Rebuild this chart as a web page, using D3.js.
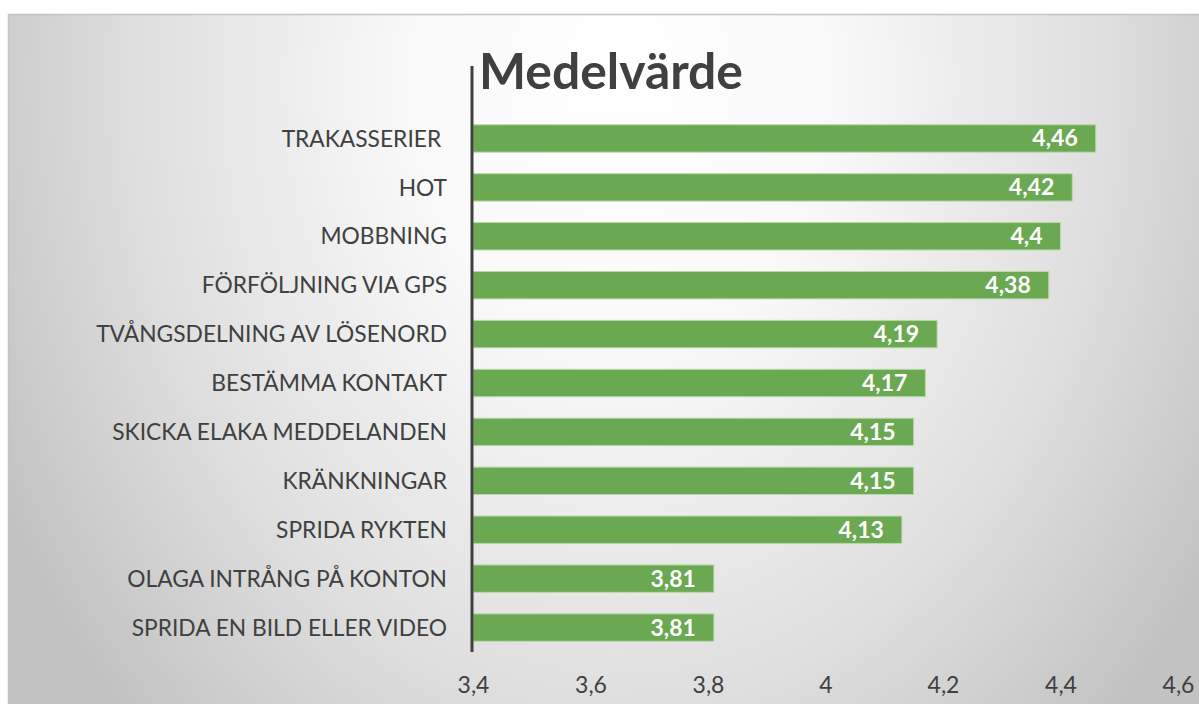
<!DOCTYPE html>
<html>
<head>
<meta charset="utf-8">
<script src="https://cdn.jsdelivr.net/npm/d3@7"></script>
<style>
  body { margin: 0; background: #fff; }
  svg { display: block; }
  text { font-family: Lato, "Open Sans", sans-serif; fill: #404040; }
</style>
</head>
<body>
<div id="chart"></div>
<script>
var barData = [
  { name: 'TRAKASSERIER ', value: 4.46 },
  { name: 'HOT', value: 4.42 },
  { name: 'MOBBNING', value: 4.4 },
  { name: 'FÖRFÖLJNING VIA GPS', value: 4.38 },
  { name: 'TVÅNGSDELNING AV LÖSENORD', value: 4.19 },
  { name: 'BESTÄMMA KONTAKT', value: 4.17 },
  { name: 'SKICKA ELAKA MEDDELANDEN', value: 4.15 },
  { name: 'KRÄNKNINGAR', value: 4.15 },
  { name: 'SPRIDA RYKTEN', value: 4.13 },
  { name: 'OLAGA INTRÅNG PÅ KONTON', value: 3.81 },
  { name: 'SPRIDA EN BILD ELLER VIDEO', value: 3.81 }
]

var W = 1199, H = 704
var fmt = v => String(v).replace('.', ',')

function draw() {
  var svg = d3.select('#chart').append('svg').attr('width', W).attr('height', H)

  // bakgrund med radiell gradient
  var defs = svg.append('defs')
  var grad = defs.append('radialGradient').attr('id', 'bg')
    .attr('gradientUnits', 'userSpaceOnUse')
    .attr('cx', 0).attr('cy', 0).attr('r', 1)
    .attr('gradientTransform', 'translate(620,80) scale(700,900)')
  grad.append('stop').attr('offset', 0).attr('stop-color', '#ffffff')
  grad.append('stop').attr('offset', 0.3).attr('stop-color', '#f9f9f9')
  grad.append('stop').attr('offset', 0.7).attr('stop-color', '#dedede')
  grad.append('stop').attr('offset', 1).attr('stop-color', '#c2c2c2')

  svg.append('rect').attr('x', 8).attr('y', 14).attr('width', W - 8).attr('height', H - 14)
    .style('fill', 'url(#bg)')
  svg.append('path').attr('d', 'M8.5,' + H + 'V14.5H' + W)
    .style('fill', 'none').style('stroke', '#c4c4c4').style('stroke-width', 1.5)

  var xScale = d3.scaleLinear().domain([3.4, 4.6]).range([473, 1178])
  var yScale = d3.scaleBand().domain(barData.map(d => d.name))
    .range([114, 652]).paddingInner(0.44).paddingOuter(0.22)

  svg.selectAll('rect.bar')
    .data(barData).enter().append('rect').attr('class', 'bar')
    .attr('x', xScale(3.4))
    .attr('y', d => yScale(d.name))
    .attr('width', d => xScale(d.value) - xScale(3.4))
    .attr('height', yScale.bandwidth())
    .style('fill', '#6aa952').style('stroke', '#b9d8aa').style('stroke-width', 1)

  svg.selectAll('text.val')
    .data(barData).enter().append('text').attr('class', 'val')
    .attr('x', d => xScale(d.value) - 18)
    .attr('y', d => yScale(d.name) + yScale.bandwidth() / 2 + 8)
    .attr('text-anchor', 'end')
    .style('font-size', '23px').style('font-weight', 'bold').style('fill', '#ffffff')
    .text(d => fmt(d.value))

  // kategoriaxel
  var yAxis = d3.axisLeft(yScale).tickSize(0).tickPadding(26)
  var yG = svg.append('g').attr('id', 'yAxisG').attr('transform', 'translate(473,0)').call(yAxis)
  yG.select('path.domain').remove()
  yG.selectAll('text').style('font-size', '22px').style('fill', '#404040')
    .style('white-space', 'pre').attr('dy', '0.36em')

  svg.append('line').attr('x1', 472).attr('x2', 472).attr('y1', 66).attr('y2', 652)
    .style('stroke', '#404040').style('stroke-width', 3)

  // värdeaxel
  var xAxis = d3.axisBottom(xScale).tickValues([3.4, 3.6, 3.8, 4, 4.2, 4.4, 4.6])
    .tickFormat(d => fmt(d3.format('.1~f')(d))).tickSize(0).tickPadding(0)
  var xG = svg.append('g').attr('id', 'xAxisG').attr('transform', 'translate(0,693)').call(xAxis)
  xG.select('path.domain').remove()
  xG.selectAll('text').attr('dy', 0).style('font-size', '23px').style('fill', '#404040')

  var title = svg.append('text').attr('id', 'title').attr('x', 479).attr('y', 89)
    .style('font-size', '50px').style('font-weight', 'bold').style('fill', '#404040')
    .text('Medelvärde')

  // anpassa textbredder till förlagan
  var fit = (sel, target) => {
    var w = sel.node().getComputedTextLength()
    var fs = parseFloat(sel.style('font-size'))
    return fs * target / w
  }
  var longest = yG.selectAll('text').filter(d => d === 'TVÅNGSDELNING AV LÖSENORD')
  var fs = fit(longest, 351)
  yG.selectAll('text').style('font-size', fs + 'px')
  title.style('font-size', fit(title, 264) + 'px')
}

draw()
</script>
</body>
</html>
